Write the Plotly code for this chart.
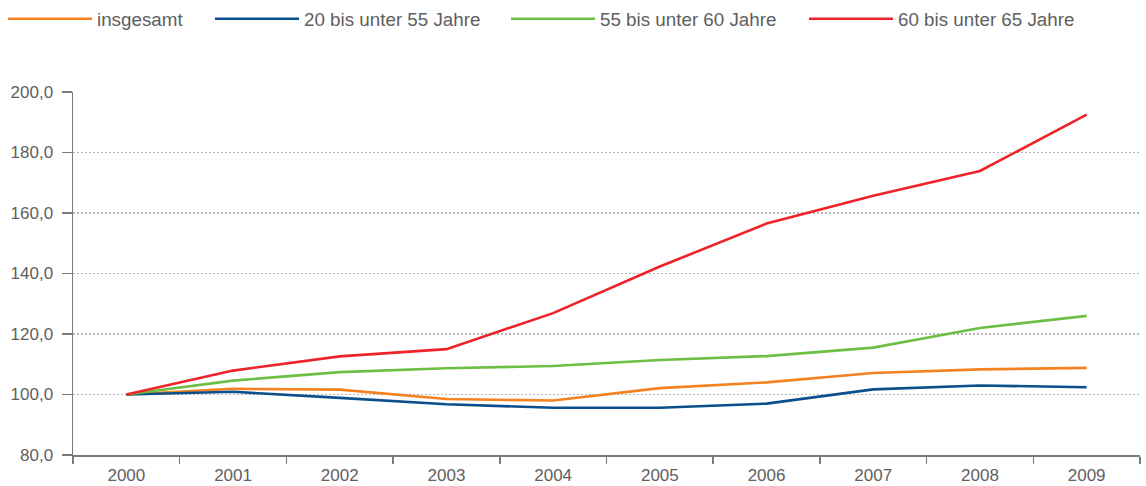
import plotly.graph_objects as go

years = ["2000", "2001", "2002", "2003", "2004", "2005", "2006", "2007", "2008", "2009"]
insgesamt = [100.0, 101.9, 101.6, 98.5, 98.0, 102.1, 104.0, 107.1, 108.3, 108.8]
age_20_55 = [100.0, 100.9, 98.9, 96.8, 95.6, 95.6, 97.0, 101.7, 103.0, 102.4]
age_55_60 = [100.0, 104.6, 107.4, 108.7, 109.4, 111.4, 112.7, 115.5, 122.0, 126.0]
age_60_65 = [100.0, 107.9, 112.6, 115.0, 126.9, 142.3, 156.5, 165.7, 173.9, 192.5]

series = [
    ("insgesamt", insgesamt, "#F58220", "legend", 3),
    ("20 bis unter 55 Jahre", age_20_55, "#0B4F8C", "legend2", 210),
    ("55 bis unter 60 Jahre", age_55_60, "#6DBE45", "legend3", 506),
    ("60 bis unter 65 Jahre", age_60_65, "#EE2229", "legend4", 804),
]

y_ticks = [80, 100, 120, 140, 160, 180, 200]

FONT = "Liberation Sans"
AXIS = "#7a7a7a"
TXT = "#606060"
W, H = 1146, 486

fig = go.Figure()
for name, vals, col, lg, _ in series:
    fig.add_trace(go.Scatter(
        x=years, y=vals, name=name, mode="lines",
        line=dict(color=col, width=2.6),
        hoverinfo="skip", legend=lg,
    ))

legend_layout = {}
for name, vals, col, lg, px in series:
    legend_layout[lg] = dict(
        orientation="h",
        xref="container", x=px / W, xanchor="left",
        yref="container", y=1 - 19 / H, yanchor="middle",
        font=dict(family=FONT, size=18.8, color=TXT),
        itemwidth=84,
        bgcolor="rgba(0,0,0,0)",
    )

fig.update_layout(
    width=W, height=H,
    margin=dict(l=73, r=6, t=92, b=31, pad=0),
    paper_bgcolor="white", plot_bgcolor="white",
    separators=",.",
    font=dict(family=FONT, size=17, color=TXT),
    showlegend=True,
    xaxis=dict(
        type="category", range=[-0.5, 9.5], automargin=False,
        tickson="boundaries", ticks="outside", ticklen=7, tickwidth=1.5,
        tickcolor=AXIS, showline=True, linecolor=AXIS, linewidth=1.5,
        showgrid=False, zeroline=False, ticklabelstandoff=4,
        tickfont=dict(family=FONT, size=17, color=TXT),
    ),
    yaxis=dict(
        range=[80, 200], tickmode="array", tickvals=y_ticks, automargin=False,
        tickformat=".1f", ticks="outside", ticklen=10, tickwidth=1.5,
        tickcolor=AXIS, showline=True, linecolor=AXIS, linewidth=1.5,
        showgrid=True, gridcolor="#b5b5b5", gridwidth=1.5, griddash="2px,2px",
        zeroline=False, ticklabelstandoff=5,
        tickfont=dict(family=FONT, size=17, color=TXT),
    ),
    xaxis2=dict(
        overlaying="x", anchor="y", type="linear", range=[-0.5, 9.5],
        automargin=False,
        tickmode="array", tickvals=[i - 0.5 for i in range(11)],
        ticks="inside", ticklen=8, tickwidth=1.5, tickcolor=AXIS,
        showticklabels=False, showgrid=False, showline=False, zeroline=False,
    ),
    yaxis2=dict(
        overlaying="y", anchor="x", side="left", range=[80, 200],
        automargin=False,
        tickmode="array", tickvals=y_ticks,
        ticks="inside", ticklen=7, tickwidth=1.5, tickcolor=AXIS,
        showticklabels=False, showgrid=False, showline=False, zeroline=False,
    ),
    **legend_layout,
)

fig.write_html(
    "out.html",
    config={"displayModeBar": False, "staticPlot": True},
    post_script="document.body.style.margin='0px';document.body.style.overflow='hidden';",
)
